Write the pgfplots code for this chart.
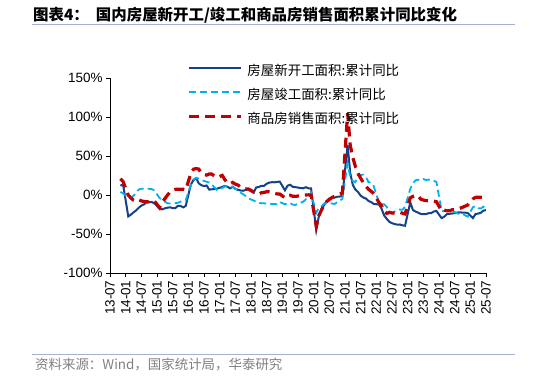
\documentclass[border=0pt]{standalone}
\usepackage{fontspec}
\setmainfont{Liberation Sans}
\newfontfamily\cjk{Noto Sans CJK SC}
\usepackage{pgfplots}
\pgfplotsset{compat=1.18}
\definecolor{cNew}{RGB}{20,65,135}
\definecolor{cComp}{RGB}{0,176,240}
\definecolor{cSale}{RGB}{192,0,0}
\definecolor{cRule}{RGB}{160,180,208}
\definecolor{cSrc}{RGB}{128,128,128}
\begin{document}
\begin{tikzpicture}
\useasboundingbox (0bp,0bp) rectangle (534bp,378bp);
\node[anchor=west, inner sep=0pt] at (33bp,363bp) {\cjk\bfseries\fontsize{15.5}{16}\selectfont 图表4：\hspace{7bp}国内房屋新开工/竣工和商品房销售面积累计同比变化};
\draw[cRule, line width=0.8bp] (32bp,354bp) -- (515bp,354bp);
\draw[cRule, line width=0.8bp] (32bp,24bp) -- (515bp,24bp);
\node[anchor=west, inner sep=0pt, text=cSrc] at (35bp,13bp) {\cjk\fontsize{13.5}{14}\selectfont 资料来源：Wind，国家统计局，华泰研究};
\begin{axis}[
  at={(110bp,105bp)}, anchor=south west,
  scale only axis, width=376bp, height=195bp,
  xmin=0, xmax=144, ymin=-100, ymax=150,
  axis x line*=bottom, axis y line*=left,
  axis line style={black, line width=0.8bp},
  tick align=outside, major tick length=4bp,
  tick style={black, line width=0.8bp},
  xtick={0,6,...,144},
  xticklabels={13-07,14-01,14-07,15-01,15-07,16-01,16-07,17-01,17-07,18-01,18-07,19-01,19-07,20-01,20-07,21-01,21-07,22-01,22-07,23-01,23-07,24-01,24-07,25-01,25-07},
  ytick={-100,-50,0,50,100,150},
  yticklabels={-100\%,-50\%,0\%,50\%,100\%,150\%},
  ticklabel style={font=\fontsize{13.5}{14}\selectfont},
  xticklabel style={rotate=90, anchor=east},
  legend style={at={(0.205,1.064)}, anchor=north west, draw=none, fill=none,
    inner sep=0pt, row sep=11bp, font=\cjk\fontsize{13.5}{14}\selectfont,
    cells={anchor=west}, nodes={inner sep=0pt, text height=10bp, text depth=3bp},
    /tikz/every odd column/.append style={column sep=5bp}},
  legend image code/.code={\draw[#1] (0bp,4bp) -- (52bp,4bp);},
  legend cell align=left,
]
\addplot[cNew, line width=2bp] coordinates {(4,11.9)(5,13.5)(7,-27.4)(8,-25.2)(9,-22.3)(10,-19.8)(11,-16.4)(12,-13.6)(13,-12.1)(14,-9.3)(15,-9.3)(16,-9.0)(17,-10.7)(19,-17.7)(20,-18.4)(21,-17.1)(22,-16.3)(23,-15.8)(24,-16.8)(25,-16.8)(26,-13.9)(27,-13.9)(28,-15.9)(29,-14.0)(31,13.7)(32,19.2)(33,21.4)(34,14.9)(35,12.6)(36,11.4)(37,12.2)(38,6.9)(39,7.3)(40,7.6)(41,8.1)(43,10.4)(44,11.6)(45,10.5)(46,8.5)(47,10.6)(48,7.8)(49,6.7)(50,5.8)(51,5.4)(52,6.6)(53,7.0)(55,2.9)(56,9.7)(57,10.3)(58,11.8)(59,11.8)(60,14.4)(61,15.9)(62,16.4)(63,16.3)(64,16.8)(65,17.2)(67,6.0)(68,11.9)(69,13.1)(70,10.5)(71,10.1)(72,9.5)(73,8.9)(74,8.6)(75,10.0)(76,8.6)(77,8.5)(79,-44.9)(80,-27.2)(81,-18.4)(82,-12.8)(83,-7.6)(84,-4.5)(85,-3.6)(86,-3.4)(87,-2.3)(88,-2.0)(89,-1.2)(91,64.3)(92,28.2)(93,12.8)(94,6.9)(95,3.8)(96,-0.9)(97,-3.2)(98,-4.5)(99,-7.7)(100,-9.1)(101,-11.4)(103,-12.2)(104,-17.5)(105,-26.3)(106,-30.6)(107,-34.4)(108,-36.1)(109,-37.2)(110,-38.0)(111,-37.8)(112,-38.9)(113,-39.4)(115,-9.4)(116,-19.2)(117,-21.2)(118,-22.6)(119,-24.3)(120,-24.5)(121,-24.4)(122,-23.4)(123,-23.2)(124,-21.2)(125,-20.4)(127,-29.7)(128,-27.8)(129,-24.6)(130,-24.2)(131,-23.7)(132,-23.2)(133,-22.5)(134,-22.2)(135,-22.6)(136,-22.7)(137,-23.0)(139,-29.6)(140,-24.4)(141,-23.8)(142,-22.8)(143,-20.0)(144,-19.4)};
\addlegendentry{房屋新开工面积:累计同比}
\addplot[cComp, line width=1.8bp, dash pattern=on 7bp off 4bp] coordinates {(4,4.0)(5,2.0)(7,-3)(8,-4)(9,-1)(10,3)(11,7)(12,8)(13,8)(14,8)(15,8)(16,7.5)(17,5.9)(19,-4)(20,-6)(21,-8.5)(22,-10.5)(23,-11)(24,-11)(25,-10.5)(26,-10)(27,-8.5)(28,-7.5)(29,-6.9)(31,14)(32,20)(33,22)(34,21)(35,19)(36,18)(37,17)(38,16)(39,13)(40,10)(41,6.1)(43,9)(44,11)(45,12)(46,11.5)(47,10)(48,8)(49,5.5)(50,3)(51,1)(52,-1.5)(53,-4.4)(55,-7)(56,-9)(57,-10)(58,-10.5)(59,-10.6)(60,-11)(61,-11)(62,-11.5)(63,-11.5)(64,-12)(65,-9)(67,-11.9)(68,-10.8)(69,-10.3)(70,-12.4)(71,-12.7)(72,-11.3)(73,-10.0)(74,-8.6)(75,-5.5)(76,-4.5)(77,2.6)(79,-22.9)(80,-15.8)(81,-14.5)(82,-11.0)(83,-10.5)(84,-11.0)(85,-10.8)(86,-11.6)(87,-9.2)(88,-7.3)(89,-4.9)(91,40.4)(92,22.9)(93,17.9)(94,16.4)(95,25.7)(96,25.7)(97,26.0)(98,23.4)(99,16.3)(100,16.0)(101,11.2)(103,-9.8)(104,-11.5)(105,-11.9)(106,-15.3)(107,-21.5)(108,-23.3)(109,-21.1)(110,-19.9)(111,-18.7)(112,-19.0)(113,-15.0)(115,8.0)(116,14.7)(117,18.8)(118,19.6)(119,19.0)(120,20.5)(121,19.2)(122,19.8)(123,19.0)(124,17.9)(125,17.0)(127,-20.2)(128,-20.7)(129,-20.4)(130,-19.8)(131,-21.8)(132,-21.8)(133,-23.6)(134,-24.4)(135,-23.9)(136,-26.2)(137,-27.7)(139,-15.6)(140,-14.3)(141,-16.9)(142,-17.3)(143,-15.0)(144,-16.5)};
\addlegendentry{房屋竣工面积:累计同比}
\addplot[cSale, line width=3.2bp, dash pattern=on 10bp off 6bp] coordinates {(4,20.8)(5,17.3)(7,-0.1)(8,-3.8)(9,-6.7)(10,-7.8)(11,-6.0)(12,-7.6)(13,-8.3)(14,-8.6)(15,-8.9)(16,-8.2)(17,-7.6)(19,-16.3)(20,-9.2)(21,-4.8)(22,-0.2)(23,3.9)(24,6.1)(25,7.2)(26,7.5)(27,7.2)(28,7.4)(29,6.5)(31,28.2)(32,33.1)(33,33.9)(34,33.2)(35,27.9)(36,26.4)(37,25.5)(38,26.9)(39,26.8)(40,24.3)(41,22.5)(43,25.1)(44,19.5)(45,15.7)(46,14.3)(47,16.1)(48,14.0)(49,12.7)(50,10.3)(51,8.2)(52,7.9)(53,7.7)(55,4.1)(56,3.6)(57,1.3)(58,2.9)(59,3.3)(60,4.2)(61,4.0)(62,2.9)(63,2.2)(64,1.4)(65,1.3)(67,-3.6)(68,-0.9)(69,-0.3)(70,-1.6)(71,-1.8)(72,-1.3)(73,-0.6)(74,-0.1)(75,0.1)(76,0.2)(77,-0.1)(79,-39.9)(80,-26.3)(81,-19.3)(82,-12.3)(83,-8.4)(84,-5.8)(85,-3.3)(86,-1.8)(87,0.0)(88,1.3)(89,2.6)(91,104.9)(92,63.8)(93,48.1)(94,36.3)(95,27.7)(96,21.5)(97,15.9)(98,11.3)(99,7.3)(100,4.8)(101,1.9)(103,-9.6)(104,-13.8)(105,-20.9)(106,-23.6)(107,-22.2)(108,-23.1)(109,-23.0)(110,-22.2)(111,-22.3)(112,-23.3)(113,-24.3)(115,-3.6)(116,-1.8)(117,-0.4)(118,-0.9)(119,-5.3)(120,-6.5)(121,-7.1)(122,-7.5)(123,-7.8)(124,-8.0)(125,-8.5)(127,-20.5)(128,-19.4)(129,-20.2)(130,-20.3)(131,-19.0)(132,-18.6)(133,-18.0)(134,-17.1)(135,-15.8)(136,-14.3)(137,-12.9)(139,-5.1)(140,-3.0)(141,-2.8)(142,-2.9)(143,-3.5)(144,-4.0)};
\addlegendentry{商品房销售面积:累计同比}
\end{axis}
\end{tikzpicture}
\end{document}
